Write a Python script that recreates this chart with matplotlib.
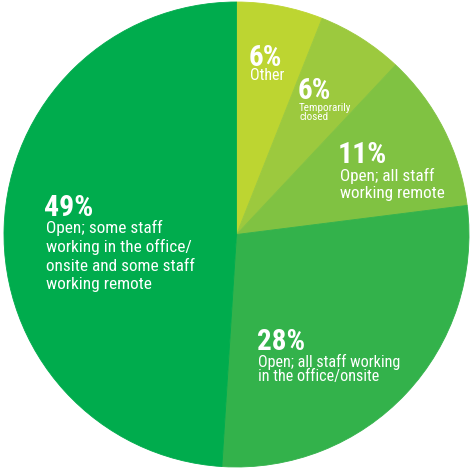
import matplotlib
matplotlib.use("Agg")
import matplotlib.pyplot as plt

# Data
categories = ["Other", "Temporarily closed", "Open; all staff working remote",
              "Open; all staff working in the office/onsite",
              "Open; some staff working in the office/onsite and some staff working remote"]
values = [6, 6, 11, 28, 49]
pct_labels = ["6%", "6%", "11%", "28%", "49%"]
body_lines = [["Other"], ["Temporarily", "closed"], ["Open; all staff", "working remote"],
              ["Open; all staff working", "in the office/onsite"],
              ["Open; some staff", "working in the office/", "onsite and some staff", "working remote"]]
colors = ["#BDD531", "#9CC93E", "#80C242", "#33B24B", "#00AC4D"]

W, H = 471, 469
CX, CY, R = 236.5, 234.5, 232.5

fig = plt.figure(figsize=(W / 100, H / 100), dpi=100)
ax = fig.add_axes([0, 0, 1, 1])
ax.pie(values, colors=colors, startangle=90, counterclock=False, radius=1,
       wedgeprops=dict(linewidth=0.6))
for w, c in zip(ax.patches, colors):
    w.set_edgecolor(c)
ax.set_xlim(-CX / R, (W - CX) / R)
ax.set_ylim(-(H - CY) / R, CY / R)
ax.axis("off")

COND = ["Roboto Condensed", "Liberation Sans", "DejaVu Sans"]

# label layout (pixel positions: left x, baselines)
layout = [
    dict(x=249, pb=66, ps=21, bx=250, bb=[80], bs=11.5),
    dict(x=298, pb=99, ps=21, bx=299, bb=[111, 120], bs=8),
    dict(x=338, pb=163, ps=21.5, bx=340, bb=[181, 198], bs=12.3),
    dict(x=257, pb=350, ps=21, bx=258, bb=[367, 381], bs=11.6),
    dict(x=44, pb=216, ps=21.5, bx=46, bb=[233, 252, 271, 289], bs=12.4),
]

def tr(x, y):
    return x / W, 1 - y / H

for lab, lines, L in zip(pct_labels, body_lines, layout):
    ax.text(*tr(L["x"], L["pb"]), lab, transform=ax.transAxes, color="white",
            fontsize=L["ps"], fontweight="bold", family=COND,
            ha="left", va="baseline")
    for line, b in zip(lines, L["bb"]):
        ax.text(*tr(L["bx"], b), line, transform=ax.transAxes, color="white",
                fontsize=L["bs"], family=COND, ha="left", va="baseline")

fig.savefig("out.png", dpi=100, facecolor="white")
